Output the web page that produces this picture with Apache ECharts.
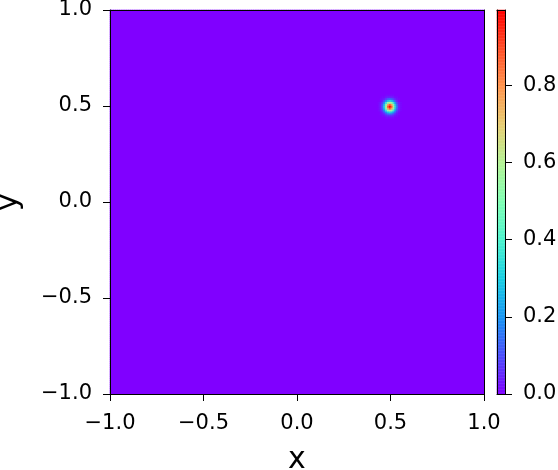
<!DOCTYPE html>
<html>
<head>
<meta charset="utf-8">
<script src="https://cdn.jsdelivr.net/npm/echarts@6/dist/echarts.min.js"></script>
<style>html,body{margin:0;padding:0;background:#fff}#c{width:558px;height:470px}</style>
</head>
<body>
<div id="c"></div>
<script>
// ---- data ----
const gridMin = -1.0, gridMax = 1.0, gridStep = 0.01;     // sample grid of the image
const backgroundValue = 0.0;                              // value everywhere outside the spot
const peakCenter = [0.5, 0.5];                            // spot centre (x, y)
// values of the cells around the spot, offsets -6..+6 cells (rows = y, cols = x)
const spotPatch = [
  [0.00,0.00,0.00,0.00,0.01,0.01,0.01,0.01,0.01,0.00,0.00,0.00,0.00],
  [0.00,0.00,0.01,0.01,0.03,0.04,0.04,0.04,0.03,0.01,0.01,0.00,0.00],
  [0.00,0.01,0.02,0.04,0.08,0.12,0.14,0.12,0.08,0.04,0.02,0.01,0.00],
  [0.00,0.01,0.04,0.10,0.20,0.28,0.32,0.28,0.20,0.10,0.04,0.01,0.00],
  [0.01,0.03,0.08,0.20,0.37,0.54,0.61,0.54,0.37,0.20,0.08,0.03,0.01],
  [0.01,0.04,0.12,0.28,0.54,0.77,0.88,0.77,0.54,0.28,0.12,0.04,0.01],
  [0.01,0.04,0.14,0.32,0.61,0.88,0.995,0.88,0.61,0.32,0.14,0.04,0.01],
  [0.01,0.04,0.12,0.28,0.54,0.77,0.88,0.77,0.54,0.28,0.12,0.04,0.01],
  [0.01,0.03,0.08,0.20,0.37,0.54,0.61,0.54,0.37,0.20,0.08,0.03,0.01],
  [0.00,0.01,0.04,0.10,0.20,0.28,0.32,0.28,0.20,0.10,0.04,0.01,0.00],
  [0.00,0.01,0.02,0.04,0.08,0.12,0.14,0.12,0.08,0.04,0.02,0.01,0.00],
  [0.00,0.00,0.01,0.01,0.03,0.04,0.04,0.04,0.03,0.01,0.01,0.00,0.00],
  [0.00,0.00,0.00,0.00,0.01,0.01,0.01,0.01,0.01,0.00,0.00,0.00,0.00]
];
const axisTicks = [-1.0, -0.5, 0.0, 0.5, 1.0];
const colorbarTicks = [0.0, 0.2, 0.4, 0.6, 0.8];
const xName = 'x', yName = 'y';
// matplotlib "rainbow" colormap stops
const rainbow = ['#8000ff','#4d4ffc','#1a96f3','#1acee3','#4df3ce','#80ffb4','#b3f396','#e6ce74','#ff964f','#ff4f28','#ff0000'];

// ---- build ----
const n = Math.round((gridMax - gridMin) / gridStep) + 1;
const cats = [];
for (let i = 0; i < n; i++) cats.push((gridMin + i * gridStep).toFixed(2));
const half = (spotPatch.length - 1) / 2;
const cx = Math.round((peakCenter[0] - gridMin) / gridStep);
const cy = Math.round((peakCenter[1] - gridMin) / gridStep);
const heat = [];
let vmax = backgroundValue;
for (let i = 0; i < n; i++) {
  for (let j = 0; j < n; j++) {
    let v = backgroundValue;
    const di = i - cx, dj = j - cy;
    if (Math.abs(di) <= half && Math.abs(dj) <= half) v = spotPatch[dj + half][di + half];
    if (v > vmax) vmax = v;
    heat.push([i, j, v]);
  }
}
// colorbar ramp
const nLev = 256;
const levCats = [], levData = [];
for (let k = 0; k < nLev; k++) { levCats.push(String(k)); levData.push([0, k, (k + 0.5) / nLev * vmax]); }

const FONT = 'DejaVu Sans';
const minus = v => Number(v).toFixed(1).replace('-', '\u2212');
const lineOnly = {show: true, onZero: false, lineStyle: {color: '#000', width: 1}};
const tickStyle = vals => ({show: true, inside: false, length: 7, lineStyle: {color: '#000', width: 1}, customValues: vals});
const L = 110, T = 10, W = 374, H = 384;

const chart = echarts.init(document.getElementById('c'), null, {renderer: 'canvas'});
chart.setOption({
  animation: false,
  backgroundColor: '#fff',
  textStyle: {fontFamily: FONT},
  grid: [
    {left: L, top: T, width: W, height: H, show: true, backgroundColor: rainbow[0], borderWidth: 0, outerBoundsMode: 'none', containLabel: false},
    {left: L, top: T, width: W, height: H, outerBoundsMode: 'none', containLabel: false},
    {left: 497, top: T, width: 8, height: H, outerBoundsMode: 'none', containLabel: false}
  ],
  visualMap: {
    type: 'continuous', show: false, min: 0, max: vmax, seriesIndex: [0, 1],
    inRange: {color: rainbow}
  },
  xAxis: [
    {gridIndex: 0, type: 'category', data: cats, show: false},
    {gridIndex: 1, type: 'value', min: -1, max: 1, position: 'bottom', z: 10,
     axisLine: lineOnly, splitLine: {show: false},
     axisTick: tickStyle(axisTicks),
     axisLabel: {show: true, color: '#000', fontSize: 21, fontFamily: FONT, margin: 19, formatter: minus, customValues: axisTicks},
     name: xName, nameLocation: 'middle', nameGap: 51, nameTextStyle: {color: '#000', fontSize: 30, fontFamily: FONT}},
    {gridIndex: 1, type: 'value', min: -1, max: 1, position: 'top', z: 10,
     axisLine: lineOnly, axisTick: {show: false}, axisLabel: {show: false}, splitLine: {show: false}},
    {gridIndex: 2, type: 'category', data: ['c'], position: 'bottom', z: 10,
     axisLine: lineOnly, axisTick: {show: false}, axisLabel: {show: false}},
    {gridIndex: 2, type: 'category', data: ['c'], position: 'top', z: 10,
     axisLine: lineOnly, axisTick: {show: false}, axisLabel: {show: false}}
  ],
  yAxis: [
    {gridIndex: 0, type: 'category', data: cats, show: false},
    {gridIndex: 1, type: 'value', min: -1, max: 1, position: 'left', z: 10,
     axisLine: lineOnly, splitLine: {show: false},
     axisTick: tickStyle(axisTicks),
     axisLabel: {show: true, color: '#000', fontSize: 21, fontFamily: FONT, margin: 18, formatter: minus, customValues: axisTicks},
     name: yName, nameLocation: 'middle', nameGap: 86, nameRotate: 90, nameTextStyle: {color: '#000', fontSize: 30, fontFamily: FONT}},
    {gridIndex: 1, type: 'value', min: -1, max: 1, position: 'right', z: 10,
     axisLine: lineOnly, axisTick: {show: false}, axisLabel: {show: false}, splitLine: {show: false}},
    {gridIndex: 2, type: 'category', data: levCats, show: false},
    {gridIndex: 2, type: 'value', min: 0, max: vmax, position: 'right', z: 10,
     axisLine: lineOnly, splitLine: {show: false},
     axisTick: tickStyle(colorbarTicks),
     axisLabel: {show: true, color: '#000', fontSize: 21, fontFamily: FONT, margin: 18, formatter: v => Number(v).toFixed(1), customValues: colorbarTicks}},
    {gridIndex: 2, type: 'value', min: 0, max: vmax, position: 'left', z: 10,
     axisLine: lineOnly, axisTick: {show: false}, axisLabel: {show: false}, splitLine: {show: false}}
  ],
  series: [
    {type: 'heatmap', xAxisIndex: 0, yAxisIndex: 0, data: heat, progressive: 0, emphasis: {disabled: true}, silent: true},
    {type: 'heatmap', xAxisIndex: 3, yAxisIndex: 3, data: levData, progressive: 0, emphasis: {disabled: true}, silent: true}
  ]
});
</script>
</body>
</html>
